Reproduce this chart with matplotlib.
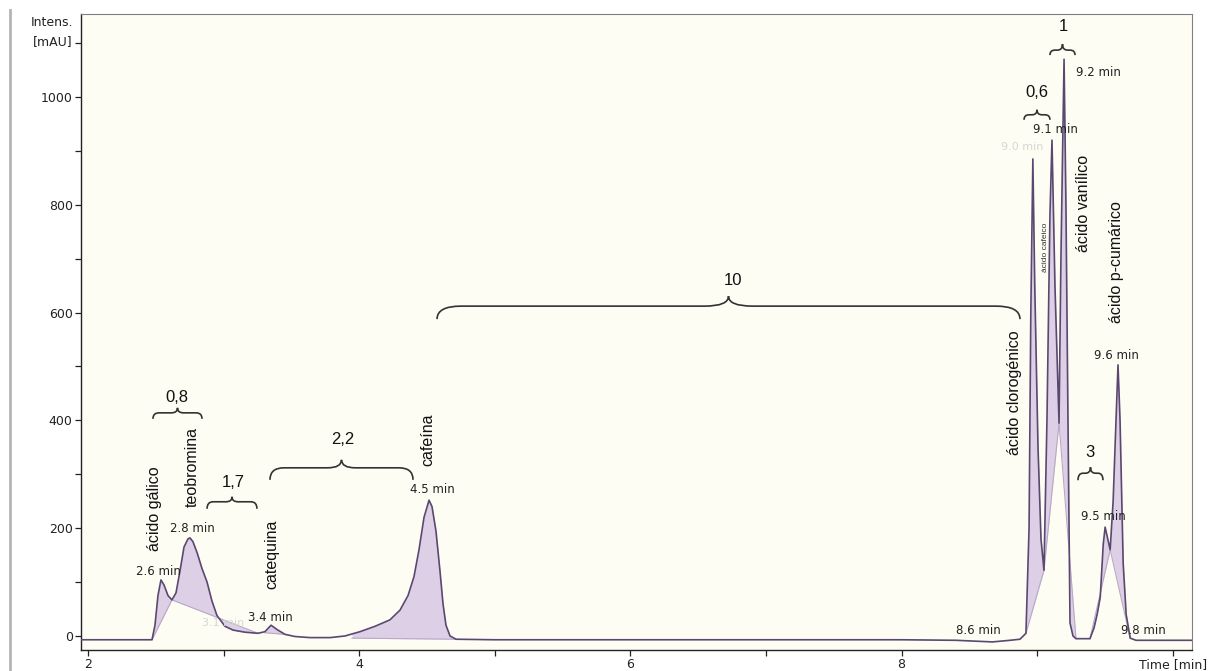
import matplotlib
matplotlib.use("Agg")
import matplotlib.pyplot as plt
import numpy as np
from matplotlib.path import Path
from matplotlib.patches import PathPatch
from matplotlib.lines import Line2D

# ---------------- data ----------------
time_min = [1.948, 2.30, 2.457, 2.472, 2.494, 2.516, 2.538, 2.560, 2.590, 2.619,
            2.649, 2.678, 2.708, 2.737, 2.752, 2.774, 2.804, 2.841, 2.878, 2.914,
            2.951, 3.010, 3.069, 3.158, 3.254, 3.305, 3.350, 3.394, 3.453, 3.527,
            3.637, 3.785, 3.895, 4.006, 4.117, 4.227, 4.301, 4.360, 4.404, 4.441,
            4.478, 4.515, 4.537, 4.566, 4.596, 4.618, 4.640, 4.670, 4.714, 5.0,
            6.0, 7.0, 8.0, 8.40, 8.67, 8.80, 8.873, 8.917, 8.940, 8.953,
            8.968, 8.982, 9.006, 9.028, 9.050, 9.072, 9.094, 9.109, 9.131, 9.161,
            9.175, 9.198, 9.212, 9.227, 9.242, 9.264, 9.286, 9.389, 9.419, 9.442,
            9.465, 9.487, 9.501, 9.516, 9.538, 9.560, 9.584, 9.596, 9.611, 9.634,
            9.656, 9.686, 9.729, 10.142]
intensity_mau = [-7, -7, -7, -7, 20, 75, 104, 95, 75, 67,
                 80, 120, 165, 180, 182, 175, 155, 125, 100, 65,
                 38, 18, 11, 7, 5, 8, 20, 12, 3, -1,
                 -3, -3, 0, 8, 18, 30, 48, 75, 110, 160,
                 220, 252, 240, 195, 120, 60, 20, 0, -6, -7,
                 -7, -7, -7, -8, -11, -8, -6, 5, 200, 600,
                 885, 650, 350, 180, 122, 400, 780, 920, 650, 395,
                 700, 1070, 800, 400, 24, 0, -5, -5, 15, 40,
                 72, 170, 202, 185, 160, 250, 420, 503, 400, 135,
                 40, -4, -8, -8]

# integration windows (start/end time and baseline intensity at each end)
peak_t0 = [2.472, 2.619, 3.305, 3.947, 8.917, 9.050, 9.161, 9.389, 9.538]
peak_t1 = [2.619, 3.254, 3.453, 4.714, 9.050, 9.161, 9.286, 9.538, 9.686]
peak_i0 = [-7, 67, 6, -4, 5, 122, 395, -5, 160]
peak_i1 = [67, 5, 3, -6, 122, 395, -5, 160, -4]

# compound labels (vertical)
compound_names = ["ácido gálico", "teobromina", "catequina", "cafeína",
                  "ácido clorogénico", "ácido vanílico", "ácido p-cumárico"]
compound_pos = [(2.487, 237), (2.767, 314), (3.357, 152), (4.507, 365),
                (8.836, 451), (9.338, 803), (9.588, 694)]

# retention time labels
rt_labels = ["2.6 min", "2.8 min", "3.4 min", "4.5 min", "9.1 min", "9.2 min",
             "9.5 min", "9.6 min", "8.6 min", "9.8 min"]
rt_pos = [(2.516, 119), (2.767, 200), (3.342, 35), (4.537, 271), (9.131, 939),
          (9.448, 1045), (9.485, 221), (9.588, 521), (8.563, 11), (9.780, 11)]
faint_labels = ["3.1 min", "9.0 min"]
faint_pos = [(3.00, 24), (8.888, 907)]

# resolution braces
brace_labels = ["0,8", "1,7", "2,2", "10", "0,6", "1", "3"]
brace_x0 = [2.479, 2.878, 3.342, 4.574, 8.903, 9.094, 9.301]
brace_x1 = [2.841, 3.246, 4.397, 8.873, 9.094, 9.279, 9.485]
brace_y = [414, 249, 312, 612, 967, 1087, 302]
brace_label_pos = [(2.656, 443), (3.069, 284), (3.881, 364), (6.757, 659),
                   (8.999, 1009), (9.190, 1130), (9.389, 340)]
# brace style in pixels: (drop, cusp, curl)
brace_style = [(6, 5, 6), (7, 5, 6), (12, 8, 14), (13, 10, 24), (5, 5, 5),
               (5, 6, 5), (7, 6, 5)]

x_ticks = [2, 3, 4, 5, 6, 7, 8, 9, 10]
x_ticklabels = ["2", "", "4", "", "6", "", "8", "", "Time [min]"]
y_ticks = [0, 100, 200, 300, 400, 500, 600, 700, 800, 900, 1000, 1100]
y_ticklabels = ["0", "", "200", "", "400", "", "600", "", "800", "", "1000", ""]

# ---------------- figure ----------------
W, H = 1210, 671
fig = plt.figure(figsize=(W / 100, H / 100), dpi=100, facecolor="white")
ax = fig.add_axes([81 / W, 1 - 650 / H, (1192 - 81) / W, (650 - 14) / H])
ax.set_facecolor("#fdfdf3")
ax.set_xlim(1.9484, 10.1416)
ax.set_ylim(-26, 1154)

t = np.array(time_min)
y = np.array(intensity_mau)

fill_color = "#ddcfe6"
base_color = "#b9a8c6"
line_color = "#5a4870"

for t0, t1, i0, i1 in zip(peak_t0, peak_t1, peak_i0, peak_i1):
    m = (t > t0) & (t < t1)
    tt = np.concatenate([[t0], t[m], [t1]])
    yy = np.interp(tt, t, y)
    base = i0 + (i1 - i0) * (tt - t0) / (t1 - t0)
    ax.fill_between(tt, yy, base, color=fill_color, lw=0, zorder=1)
    ax.plot([t0, t1], [i0, i1], color=base_color, lw=0.8, zorder=2)

ax.plot(t, y, color=line_color, lw=1.2, zorder=3)

# spines & ticks
for s in ["left", "bottom"]:
    ax.spines[s].set_color("#222222")
    ax.spines[s].set_linewidth(1.0)
for s in ["top", "right"]:
    ax.spines[s].set_color("#808080")
    ax.spines[s].set_linewidth(0.8)
ax.set_xticks(x_ticks)
ax.set_xticklabels(x_ticklabels)
ax.set_yticks(y_ticks)
ax.set_yticklabels(y_ticklabels)
ax.tick_params(direction="out", length=4.5, width=0.9, color="#222222",
               labelsize=9, pad=1.5, labelcolor="#222222")
for lab in ax.get_xticklabels() + ax.get_yticklabels():
    lab.set_family("DejaVu Sans")

# y-axis unit label
fig.text(73 / W, 1 - 42 / H, "[mAU]", ha="right", va="center", fontsize=9,
         color="#222222", family="DejaVu Sans")
fig.text(73 / W, 1 - 22 / H, "Intens.", ha="right", va="center", fontsize=9,
         color="#222222", family="DejaVu Sans")

# window border on the left
fig.add_artist(Line2D([10 / W, 10 / W], [0, 1 - 10 / H], transform=fig.transFigure,
                      color="#b4b4b4", lw=2))

# labels
for name, (xp, yp) in zip(compound_names, compound_pos):
    ax.text(xp, yp, name, rotation=90, ha="center", va="center", fontsize=11.5,
            family="Liberation Sans", color="#111111", zorder=5)
ax.text(9.058, 722, "ácido cafeico", rotation=90, ha="center", va="center",
        fontsize=6, family="Liberation Sans", color="#333333", zorder=5)
for lab, (xp, yp) in zip(rt_labels, rt_pos):
    ax.text(xp, yp, lab, ha="center", va="center", fontsize=8.5,
            family="DejaVu Sans", color="#222222", zorder=5)
for lab, (xp, yp) in zip(faint_labels, faint_pos):
    ax.text(xp, yp, lab, ha="center", va="center", fontsize=8,
            family="DejaVu Sans", color="#d6d6d6", zorder=5)
for lab, (xp, yp) in zip(brace_labels, brace_label_pos):
    ax.text(xp, yp, lab, ha="center", va="center", fontsize=12,
            family="Liberation Sans", color="#111111", zorder=5)

# braces
fig.canvas.draw()
to_fig = fig.transFigure.inverted()


def brace(x0, x1, yv, drop, cusp, curl):
    (L, Y), = ax.transData.transform([(x0, yv)])
    (R, _), = ax.transData.transform([(x1, yv)])
    C = (L + R) / 2
    k2 = min(curl, (R - L) / 4)
    pts = [(L, Y - drop), (L, Y), (L + curl, Y), (C - k2, Y), (C, Y), (C, Y + cusp),
           (C, Y), (C + k2, Y), (R - curl, Y), (R, Y), (R, Y - drop)]
    codes = [Path.MOVETO, Path.CURVE3, Path.CURVE3, Path.LINETO, Path.CURVE3, Path.CURVE3,
             Path.CURVE3, Path.CURVE3, Path.LINETO, Path.CURVE3, Path.CURVE3]
    pts = to_fig.transform(pts)
    fig.add_artist(PathPatch(Path(pts, codes), fill=False, edgecolor="#333333",
                             lw=1.2, transform=fig.transFigure))


for x0, x1, yv, (d, c, k) in zip(brace_x0, brace_x1, brace_y, brace_style):
    brace(x0, x1, yv, d, c, k)

fig.savefig("out.png", dpi=100, facecolor="white")
